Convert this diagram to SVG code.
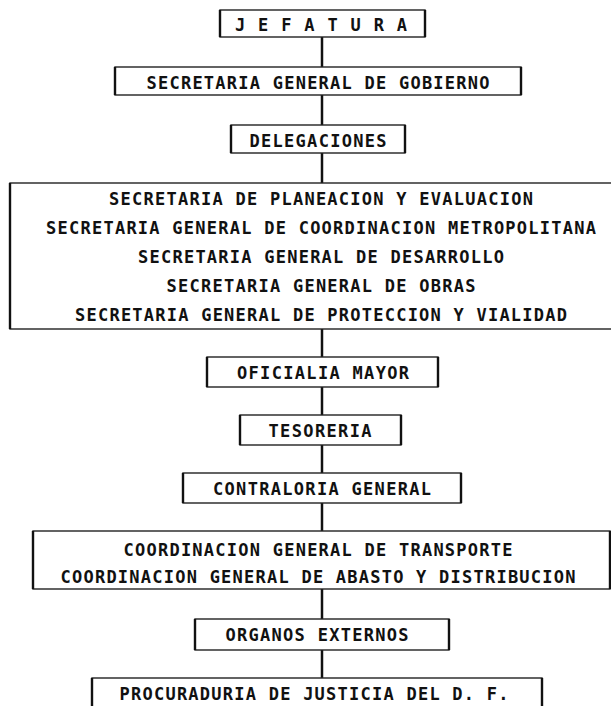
<svg xmlns="http://www.w3.org/2000/svg" width="611" height="706" viewBox="0 0 611 706">
<style>
.box{fill:none;stroke:#222;stroke-width:1.4}
.side{stroke:#111;stroke-width:2.4;fill:none}
.conn{stroke:#111;stroke-width:2.5;fill:none}
text{font-family:"DejaVu Sans Mono","Liberation Mono",monospace;font-weight:bold;font-size:17px;fill:#111;text-anchor:middle}
</style>
<rect width="611" height="706" fill="#fff"/>
<g id="connectors">
<line class="conn" x1="322" y1="37" x2="322" y2="67"/>
<line class="conn" x1="322" y1="95" x2="322" y2="125"/>
<line class="conn" x1="322" y1="153" x2="322" y2="183"/>
<line class="conn" x1="322" y1="329" x2="322" y2="357"/>
<line class="conn" x1="322" y1="387" x2="322" y2="415"/>
<line class="conn" x1="322" y1="445" x2="322" y2="473"/>
<line class="conn" x1="322" y1="503" x2="322" y2="531"/>
<line class="conn" x1="322" y1="589" x2="322" y2="619"/>
<line class="conn" x1="322" y1="650" x2="322" y2="678"/>
</g>
<g id="jefatura">
<rect class="box" x="220" y="10" width="205" height="27"/>
<path class="side" d="M220 10V37M425 10V37"/>
<text x="321" y="31" textLength="172" lengthAdjust="spacing">J E F A T U R A</text>
</g>
<g id="sec-gobierno">
<rect class="box" x="115" y="67" width="406" height="28"/>
<path class="side" d="M115 67V95M521 67V95"/>
<text x="318" y="89" textLength="343" lengthAdjust="spacing">SECRETARIA GENERAL DE GOBIERNO</text>
</g>
<g id="delegaciones">
<rect class="box" x="231" y="125" width="174" height="28"/>
<path class="side" d="M231 125V153M405 125V153"/>
<text x="318" y="147" textLength="137" lengthAdjust="spacing">DELEGACIONES</text>
</g>
<g id="secretarias">
<rect class="box" x="10" y="183" width="606" height="146"/>
<path class="side" d="M10 183V329"/>
<text x="321" y="205" textLength="424" lengthAdjust="spacing">SECRETARIA DE PLANEACION Y EVALUACION</text>
<text x="321" y="234" textLength="550" lengthAdjust="spacing">SECRETARIA GENERAL DE COORDINACION METROPOLITANA</text>
<text x="321" y="263" textLength="366" lengthAdjust="spacing">SECRETARIA GENERAL DE DESARROLLO</text>
<text x="321" y="292" textLength="309" lengthAdjust="spacing">SECRETARIA GENERAL DE OBRAS</text>
<text x="321" y="321" textLength="492" lengthAdjust="spacing">SECRETARIA GENERAL DE PROTECCION Y VIALIDAD</text>
</g>
<g id="oficialia">
<rect class="box" x="207" y="357" width="231" height="30"/>
<path class="side" d="M207 357V387M438 357V387"/>
<text x="323" y="379" textLength="172" lengthAdjust="spacing">OFICIALIA MAYOR</text>
</g>
<g id="tesoreria">
<rect class="box" x="240" y="415" width="161" height="30"/>
<path class="side" d="M240 415V445M401 415V445"/>
<text x="320" y="437" textLength="103" lengthAdjust="spacing">TESORERIA</text>
</g>
<g id="contraloria">
<rect class="box" x="183" y="473" width="278" height="30"/>
<path class="side" d="M183 473V503M461 473V503"/>
<text x="322" y="495" textLength="218" lengthAdjust="spacing">CONTRALORIA GENERAL</text>
</g>
<g id="coordinaciones">
<rect class="box" x="33" y="531" width="577" height="58"/>
<path class="side" d="M33 531V589M610 531V589"/>
<text x="318" y="556" textLength="389" lengthAdjust="spacing">COORDINACION GENERAL DE TRANSPORTE</text>
<text x="318" y="583" textLength="515" lengthAdjust="spacing">COORDINACION GENERAL DE ABASTO Y DISTRIBUCION</text>
</g>
<g id="organos">
<rect class="box" x="195" y="619" width="254" height="31"/>
<path class="side" d="M195 619V650M449 619V650"/>
<text x="317" y="641" textLength="183" lengthAdjust="spacing">ORGANOS EXTERNOS</text>
</g>
<g id="procuraduria">
<rect class="box" x="92" y="678" width="450" height="40"/>
<path class="side" d="M92 678V706M542 678V706"/>
<text x="314" y="700" textLength="389" lengthAdjust="spacing">PROCURADURIA DE JUSTICIA DEL D. F.</text>
</g>
</svg>
